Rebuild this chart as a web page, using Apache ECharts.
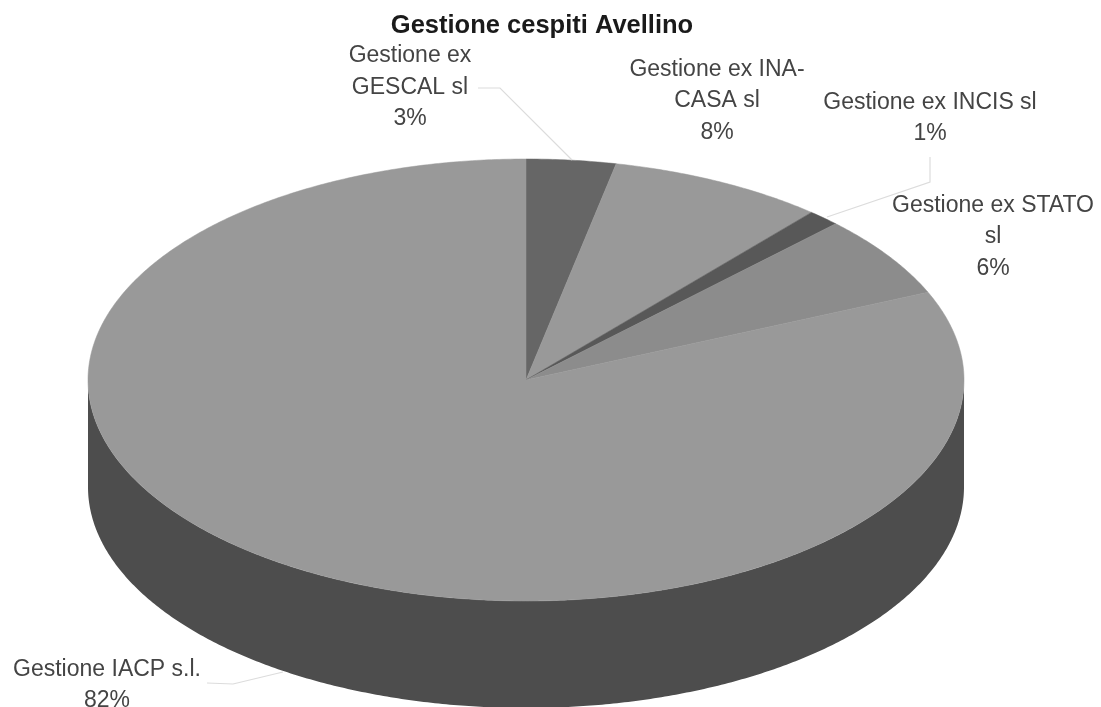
<!DOCTYPE html>
<html>
<head>
<meta charset="utf-8">
<style>html,body{margin:0;padding:0;background:#fff}#c{width:1101px;height:707px}</style>
<script src="https://cdn.jsdelivr.net/npm/echarts@6/dist/echarts.min.js"></script>
</head>
<body>
<div id="c"></div>
<script>
const chartTitle = 'Gestione cespiti Avellino';
const categories = ['Gestione ex\nGESCAL sl', 'Gestione ex INA-\nCASA sl', 'Gestione ex INCIS sl', 'Gestione ex STATO\nsl', 'Gestione IACP s.l.'];
const values = [3.3, 8.0, 1.2, 6.0, 81.5];
const percentLabels = ['3%', '8%', '1%', '6%', '82%'];

const sliceColors = ['#666666', '#999999', '#585858', '#8c8c8c', '#999999'];
const sideColor = '#4d4d4d';
const pie = { cx: 526, cy: 380, rx: 438, ry: 221, depth: 107 };
const labelPlaces = [[410, 87.5], [717, 101], [930, 118], [993, 237], [107, 685]];
const leaders = [
  [[478, 88], [500, 88], [572, 160]],
  null,
  [[930, 157], [930, 182], [827, 217]],
  null,
  [[207, 683], [233, 684], [283, 672]]
];
const total = values.reduce((a, b) => a + b, 0);

function pt(deg, dy) {
  const r = deg * Math.PI / 180;
  return [pie.cx + pie.rx * Math.sin(r), pie.cy - pie.ry * Math.cos(r) + (dy || 0)];
}
function arc(a, b, dy) {
  const out = [];
  const n = Math.max(2, Math.ceil(Math.abs(b - a) * 2));
  for (let i = 0; i <= n; i++) out.push(pt(a + (b - a) * i / n, dy));
  return out;
}
function renderSlice(params, api) {
  const idx = params.dataIndex;
  let before = 0;
  for (let i = 0; i < idx; i++) before += values[i];
  const a0 = before / total * 360;
  const a1 = (before + api.value(0)) / total * 360;
  const children = [];
  const s0 = Math.max(a0, 90), s1 = Math.min(a1, 270);
  if (s1 > s0) {
    const top = arc(s0, s1, 0);
    const bottom = arc(s1, s0, pie.depth);
    children.push({ type: 'polygon', shape: { points: top.concat(bottom) }, style: { fill: sideColor }, z2: 1 });
  }
  children.push({
    type: 'polygon',
    shape: { points: [[pie.cx, pie.cy]].concat(arc(a0, a1, 0)) },
    style: { fill: sliceColors[idx], stroke: sliceColors[idx], lineWidth: 0.5 },
    z2: 2
  });
  if (leaders[idx]) {
    children.push({ type: 'polyline', shape: { points: leaders[idx] }, style: { fill: null, stroke: '#dcdcdc', lineWidth: 1.2 }, z2: 3 });
  }
  children.push({
    type: 'text',
    x: labelPlaces[idx][0],
    y: labelPlaces[idx][1],
    style: {
      text: categories[idx] + '\n' + percentLabels[idx],
      fill: '#444444',
      font: '23px "Liberation Sans"',
      lineHeight: 31.5,
      align: 'center',
      verticalAlign: 'middle'
    },
    z2: 4
  });
  return { type: 'group', children };
}

const chart = echarts.init(document.getElementById('c'), null, { renderer: 'canvas' });
chart.setOption({
  animation: false,
  backgroundColor: '#ffffff',
  title: {
    text: chartTitle,
    left: 537, top: 8, textAlign: 'center',
    textStyle: { fontFamily: 'Liberation Sans', fontSize: 25.5, fontWeight: 'bold', color: '#1a1a1a' }
  },
  series: [{
    type: 'custom',
    coordinateSystem: 'none',
    renderItem: renderSlice,
    data: values.map((v, i) => ({ name: categories[i], value: [v] }))
  }]
});
</script>
</body>
</html>
